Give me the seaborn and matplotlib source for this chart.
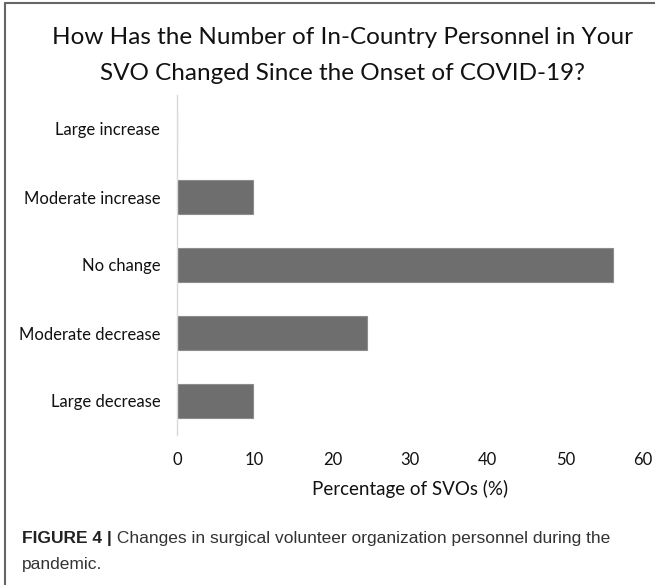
import matplotlib
matplotlib.use('Agg')
import matplotlib.pyplot as plt
import seaborn as sns
import pandas as pd
from matplotlib.lines import Line2D

# values
categories = ['Large increase', 'Moderate increase', 'No change',
              'Moderate decrease', 'Large decrease']
percentages = [0.0, 9.8, 56.1, 24.4, 9.8]
x_ticks = [0, 10, 20, 30, 40, 50, 60]

title_lines = ['How Has the Number of In-Country Personnel in Your',
               'SVO Changed Since the Onset of COVID-19?']
x_label = 'Percentage of SVOs (%)'
caption_bold = 'FIGURE 4 |'
caption_line1 = ' Changes in surgical volunteer organization personnel during the'
caption_line2 = 'pandemic.'

W, H = 655, 585

sns.set_theme(style='white')
plt.rcParams['font.family'] = ['Lato', 'DejaVu Sans']

fig = plt.figure(figsize=(W / 100, H / 100), dpi=100)
ax = fig.add_axes([177 / W, 1 - 435 / H, (643 - 177) / W, (435 - 95) / H])

df = pd.DataFrame({'Response': categories, 'Percentage': percentages})
sns.barplot(data=df, x='Percentage', y='Response', order=categories,
            color='#6e6e6e', saturation=1, width=0.5,
            edgecolor='#8c8c8c', linewidth=0.8, ax=ax)

ax.set_xlim(0, 60)
ax.set_xticks(x_ticks)
for side in ['top', 'right', 'bottom']:
    ax.spines[side].set_visible(False)
ax.spines['left'].set_color('#d9d9d9')
ax.spines['left'].set_linewidth(1.0)
ax.tick_params(axis='y', length=0, labelsize=12, pad=12, colors='#111111')
ax.tick_params(axis='x', length=0, labelsize=12, pad=12, colors='#111111')
ax.set_ylabel('')
ax.set_xlabel(x_label, fontsize=13.5, labelpad=9, color='#111111')

# two title lines placed separately for exact spacing
fig.text(342 / W, 1 - 38 / H, title_lines[0], ha='center', va='center',
         fontsize=17.5, color='#111111')
fig.text(342 / W, 1 - 73 / H, title_lines[1], ha='center', va='center',
         fontsize=17.5, color='#111111')

# caption below the chart
cap_font = ['Liberation Sans', 'DejaVu Sans']
cap = fig.text(22 / W, 1 - 538 / H, caption_bold, fontsize=12.5, va='center',
               family=cap_font, weight='bold', color='#222222')
ax.annotate(caption_line1, xy=(1, 0.5), xycoords=cap, va='center',
            fontsize=12.5, family=cap_font, color='#333333',
            annotation_clip=False)
fig.text(22 / W, 1 - 565 / H, caption_line2, fontsize=12.5, va='center',
         family=cap_font, color='#333333')

# frame lines on top and left
fig.add_artist(Line2D([5 / W, 5 / W], [0, 1 - 3 / H], color='#666666', lw=1.5))
fig.add_artist(Line2D([5 / W, 1.0], [1 - 3 / H, 1 - 3 / H], color='#666666', lw=1.5))

fig.savefig('out.png', dpi=100)
